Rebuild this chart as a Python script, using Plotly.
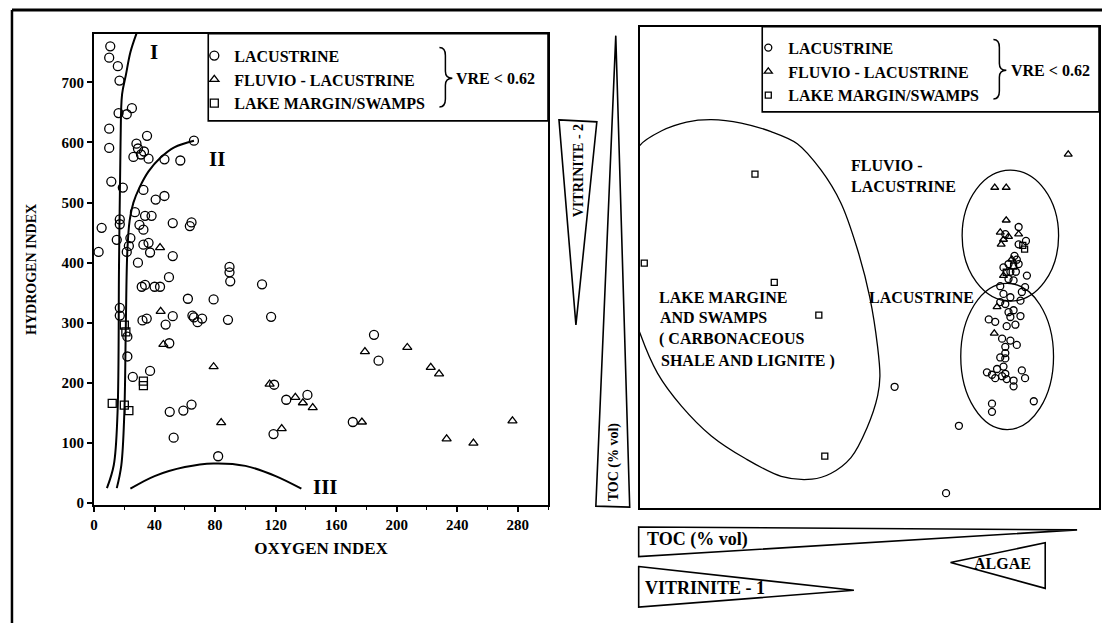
import plotly.graph_objects as go

W, H = 1102, 629

# ---------------- Left panel: Oxygen index vs Hydrogen index ----------------
lac_oi = [10.7, 10, 15.7, 16.8, 16.2, 21.6, 25, 10, 10, 35, 28, 29, 33, 31, 26, 66, 57, 46.5, 36,
          11.4, 19, 32.6, 46.5, 40.7, 27, 33.7, 38, 17, 17, 5, 30, 32.6, 52, 64.4, 63.3, 24, 15, 23,
          32.6, 36, 37, 52, 3, 21.6, 29, 89.5, 89.5, 90, 111, 49.5, 31.5, 33.7, 40, 43.6, 62, 79,
          52, 47.3, 32, 34.8, 65, 66, 68.4, 71.4, 88.5, 117, 49.7, 185, 188, 25.6, 37, 119, 127,
          141, 50, 59, 64.4, 52.6, 118.6, 82, 171, 17, 17, 22, 22]
lac_hi = [760, 741, 727, 703, 649, 647, 657, 623, 591, 611, 598, 590, 585, 580, 576, 603, 570, 572, 573,
          535, 525, 521, 511, 505, 484, 478, 478, 472, 464, 458, 463, 455, 466, 467, 461, 441, 438, 428,
          430, 433, 417, 411, 418, 418, 400, 393, 384, 369, 364, 376, 360, 363, 360, 360, 340, 339,
          311, 297, 304, 307, 312, 309, 301, 307, 305, 310, 266, 280, 237, 210, 220, 197, 172,
          180, 152, 154, 164, 109, 115, 78, 135, 325, 312, 277, 244]

flu_oi = [43.6, 44, 45.8, 79, 116, 133, 138, 144.5, 84, 124, 177, 179, 207, 222.5, 228, 276.5, 233, 250.7]
flu_hi = [425, 319, 264, 227, 198, 176, 167, 159, 134, 124, 135, 252, 259, 226, 215, 137, 107, 100]

lms_oi = [32.6, 32.6, 12, 20, 23, 20, 21]
lms_hi = [203, 195.5, 166, 163, 154, 296, 285]

# Kerogen type curves (I, II, III)
curve1_oi = [8.5, 13, 15.5, 16.5, 17.5, 18.5, 21, 24, 28]
curve1_hi = [25, 63, 150, 400, 600, 680, 712, 750, 781]
curve2_oi = [15, 18, 20, 21, 22, 23.5, 26, 30, 36, 44, 53, 66]
curve2_hi = [25, 63, 150, 300, 420, 470, 500, 525, 552, 575, 592, 603]
curve3_oi = [24, 40, 60, 79, 100, 120, 137]
curve3_hi = [24, 45, 60, 66, 62, 45, 24]

# ---------------- Right panel: relative TOC / maceral space (0-100) ----------------
r_lac_x = [55.5, 69.5, 66.7,
           82.5, 79.6, 82.5, 84.1, 81.6, 82.1, 80.3, 82.5, 79.2, 80.7, 81.9, 84.3, 80.3, 81.4,
           79.2, 80.7, 83.2, 78.5, 79.6, 82.9, 80.3, 81.4, 80.7, 82.9, 76.0, 77.4, 79.9, 81.8,
           78.9, 80.7, 82.1, 79.6, 79.6, 78.5, 79.6, 79.2, 77.8, 75.6, 76.7, 77.4, 78.9, 79.6,
           79.9, 81.4, 83.2, 83.9, 81.4, 76.7, 76.7, 85.8, 78.5, 83.9]
r_lac_y = [25.2, 17.1, 3.1,
           58.4, 56.9, 54.8, 55.5, 52.4, 51.6, 50.7, 50.7, 50.0, 49.1, 49.1, 48.3, 47.6, 47.3,
           44.5, 43.8, 44.9, 42.8, 42.4, 43.1, 40.7, 41.1, 39.7, 39.9, 39.2, 38.7, 37.8, 38.1,
           35.2, 34.8, 33.9, 33.5, 32.2, 31.3, 31.1, 29.4, 28.9, 28.2, 27.7, 27.0, 27.4, 27.9,
           26.8, 26.5, 28.6, 27.0, 25.3, 21.7, 20.0, 22.2, 46.1, 45.9]
r_flu_x = [93.3, 77.3, 79.8, 79.8, 78.5, 80.3, 82.5, 78.7, 79.2, 81.0, 79.2, 77.8, 77.2]
r_flu_y = [73.5, 66.6, 66.6, 59.8, 57.3, 56.4, 56.9, 54.8, 55.8, 51.7, 48.3, 41.8, 36.3]
r_lms_x = [25.1, 1.0, 29.3, 39.0, 40.3, 83.4, 83.8, 81.4, 79.8]
r_lms_y = [69.4, 50.9, 46.9, 40.1, 10.8, 54.6, 53.8, 50.3, 49.0]

# Lake margin / swamps field outline
marg_x = [-3.0, -2.4, -1.1, 0, 4.8, 10.2, 15.6, 22.1, 28.6, 34.3, 39.5, 43.8, 47.3, 50.1, 51.8,
          52.3, 51.8, 49.5, 46.0, 41.6, 37.5, 30.8, 23.0, 15.6, 9.1, 3.9, 0.2, -2.2, -3.0]
marg_y = [54.1, 64.4, 71.6, 75.3, 78.4, 80.2, 80.7, 80.0, 78.2, 75.7, 70.2, 63.4, 54.1, 43.8, 33.5,
          27.4, 23.3, 16.7, 10.5, 7.2, 6.0, 6.6, 10.3, 15.0, 21.2, 28.0, 36.0, 43.8, 54.1]
# Fluvio-lacustrine and lacustrine fields (x0, x1, y0, y1)
fluvio_field = (70.2, 91.2, 43.0, 70.2)
lacus_field = (69.9, 90.1, 16.3, 46.7)

names = ["LACUSTRINE", "FLUVIO - LACUSTRINE", "LAKE MARGIN/SWAMPS"]

SERIF = "Liberation Serif"
BLACK = "black"


def fx(x):
    return x / W


def fy(y):
    return 1 - y / H


def path(pts, close=True):
    s = "M " + " L ".join(f"{fx(x):.5f},{fy(y):.5f}" for x, y in pts)
    return s + (" Z" if close else "")


def brace(x0, xm, xt, ytop, ymid, ybot):
    return (f"M {fx(x0):.5f},{fy(ytop):.5f} Q {fx(xm):.5f},{fy(ytop):.5f} {fx(xm):.5f},{fy(ytop+8):.5f} "
            f"L {fx(xm):.5f},{fy(ymid-7):.5f} Q {fx(xm):.5f},{fy(ymid):.5f} {fx(xt):.5f},{fy(ymid):.5f} "
            f"Q {fx(xm):.5f},{fy(ymid):.5f} {fx(xm):.5f},{fy(ymid+7):.5f} "
            f"L {fx(xm):.5f},{fy(ybot-8):.5f} Q {fx(xm):.5f},{fy(ybot):.5f} {fx(x0):.5f},{fy(ybot):.5f}")


fig = go.Figure()

mk = dict(color=BLACK, line=dict(width=1.3, color=BLACK))
fig.add_trace(go.Scatter(x=lac_oi, y=lac_hi, mode="markers", name=names[0], legend="legend",
                         marker=dict(symbol="circle-open", size=9, **mk), xaxis="x", yaxis="y"))
fig.add_trace(go.Scatter(x=flu_oi, y=flu_hi, mode="markers", name=names[1], legend="legend",
                         marker=dict(symbol="triangle-up-open", size=8, **mk), xaxis="x", yaxis="y"))
fig.add_trace(go.Scatter(x=lms_oi, y=lms_hi, mode="markers", name=names[2], legend="legend",
                         marker=dict(symbol="square-open", size=8, **mk), xaxis="x", yaxis="y"))
for cx, cy in [(curve1_oi, curve1_hi), (curve2_oi, curve2_hi), (curve3_oi, curve3_hi)]:
    fig.add_trace(go.Scatter(x=cx, y=cy, mode="lines", line=dict(color=BLACK, width=2, shape="spline"),
                             showlegend=False, hoverinfo="skip", xaxis="x", yaxis="y"))

fig.add_trace(go.Scatter(x=marg_x, y=marg_y, mode="lines",
                         line=dict(color=BLACK, width=1.3, shape="spline", smoothing=0.9),
                         showlegend=False, hoverinfo="skip", xaxis="x2", yaxis="y2"))
fig.add_trace(go.Scatter(x=r_lac_x, y=r_lac_y, mode="markers", name=names[0], legend="legend2",
                         marker=dict(symbol="circle-open", size=7, **mk), xaxis="x2", yaxis="y2"))
fig.add_trace(go.Scatter(x=r_flu_x, y=r_flu_y, mode="markers", name=names[1], legend="legend2",
                         marker=dict(symbol="triangle-up-open", size=7, **mk), xaxis="x2", yaxis="y2"))
fig.add_trace(go.Scatter(x=r_lms_x, y=r_lms_y, mode="markers", name=names[2], legend="legend2",
                         marker=dict(symbol="square-open", size=6, **mk), xaxis="x2", yaxis="y2"))

shapes = []
# outer border
shapes.append(dict(type="line", xref="paper", yref="paper", x0=fx(8), x1=fx(1102), y0=fy(10), y1=fy(10),
                   line=dict(color=BLACK, width=3)))
shapes.append(dict(type="line", xref="paper", yref="paper", x0=fx(8), x1=fx(8), y0=fy(10), y1=fy(629),
                   line=dict(color=BLACK, width=2.5)))
# legend boxes
shapes.append(dict(type="rect", xref="paper", yref="paper", x0=fx(205), x1=fx(546), y0=fy(122), y1=fy(34),
                   line=dict(color=BLACK, width=1.6)))
shapes.append(dict(type="rect", xref="paper", yref="paper", x0=fx(761), x1=fx(1099), y0=fy(113), y1=fy(27),
                   line=dict(color=BLACK, width=1.6)))
# braces
shapes.append(dict(type="path", xref="paper", yref="paper", path=brace(437, 443, 450, 48, 79, 108),
                   line=dict(color=BLACK, width=1.5)))
shapes.append(dict(type="path", xref="paper", yref="paper", path=brace(993, 999, 1006, 40, 71, 100),
                   line=dict(color=BLACK, width=1.5)))
# wedges
wedges = [
    [(557, 121), (595, 123), (574, 328)],          # vitrinite - 2
    [(614, 36), (628, 512), (594, 511)],           # TOC vertical
    [(637, 532), (1077, 535), (637, 562)],         # TOC horizontal
    [(950, 568), (1045, 548), (1045, 594)],        # algae
    [(637, 572), (853, 596), (637, 613)],          # vitrinite - 1
]
for wpts in wedges:
    shapes.append(dict(type="path", xref="paper", yref="paper", path=path(wpts),
                       line=dict(color=BLACK, width=1.6)))
# facies fields
for (x0, x1, y0, y1) in [fluvio_field, lacus_field]:
    shapes.append(dict(type="circle", xref="x2", yref="y2", x0=x0, x1=x1, y0=y0, y1=y1,
                       line=dict(color=BLACK, width=1.3)))

bold = dict(family=SERIF, color=BLACK, weight="bold")


def ann(text, x, y, size=16, xanchor="left", angle=0):
    return dict(text=text, x=fx(x), y=fy(y), xref="paper", yref="paper", showarrow=False,
                xanchor=xanchor, yanchor="middle", textangle=angle, font=dict(size=size, **bold))


annotations = [
    ann("I", 151, 52, 21, "center"),
    ann("II", 214, 161, 21, "center"),
    ann("III", 323, 492, 21, "center"),
    ann("VRE &lt; 0.62", 452, 79, 16),
    ann("VRE &lt; 0.62", 1009, 71, 16),
    ann("VITRINITE - 2", 576, 172, 14, "center", -90),
    ann("TOC (% vol)", 612, 466, 14, "center", -90),
    ann("TOC (% vol)", 643, 545, 18),
    ann("VITRINITE - 1", 641, 594, 18),
    ann("ALGAE", 1002, 569, 16, "center"),
    ann("FLUVIO -", 848, 167, 16),
    ann("LACUSTRINE", 848, 188, 16),
    ann("LACUSTRINE", 866, 300, 16),
    ann("LAKE MARGINE", 655, 300, 16),
    ann("AND SWAMPS", 656, 321, 16),
    ann("( CARBONACEOUS", 655, 342, 16),
    ann("SHALE AND LIGNITE )", 657, 364, 16),
]

axis_common = dict(showgrid=False, zeroline=False, linecolor=BLACK, showline=True, mirror=True)

fig.update_layout(
    width=W, height=H, margin=dict(l=0, r=0, t=0, b=0),
    paper_bgcolor="white", plot_bgcolor="white",
    font=dict(family=SERIF, color=BLACK),
    xaxis=dict(domain=[fx(90.4), fx(546)], range=[0, 300], tick0=0, dtick=40, ticks="outside",
               ticklen=5, tickwidth=1.5, tickcolor=BLACK, linewidth=2,
               minor=dict(dtick=20, ticks="outside", ticklen=3, tickcolor=BLACK, tickwidth=1.2),
               tickfont=dict(size=15, **bold),
               title=dict(text="OXYGEN INDEX", font=dict(size=17, **bold), standoff=10),
               anchor="y", **axis_common),
    yaxis=dict(domain=[fy(510), fy(34)], range=[-3.3, 781], tick0=0, dtick=100, ticks="outside",
               ticklen=5, tickwidth=1.5, tickcolor=BLACK, linewidth=2,
               tickfont=dict(size=15, **bold),
               title=dict(text="HYDROGEN INDEX", font=dict(size=14, **bold), standoff=22),
               anchor="x", **axis_common),
    xaxis2=dict(domain=[fx(638), fx(1099)], range=[0, 100], showticklabels=False, ticks="",
                linewidth=1.6, anchor="y2", **axis_common),
    yaxis2=dict(domain=[fy(513), fy(27)], range=[0, 100], showticklabels=False, ticks="",
                linewidth=1.6, anchor="x2", **axis_common),
    legend=dict(x=fx(191), y=fy(39), xanchor="left", yanchor="top", bgcolor="rgba(0,0,0,0)",
                borderwidth=0, font=dict(size=16, **bold), tracegroupgap=0),
    legend2=dict(x=fx(747), y=fy(31), xanchor="left", yanchor="top", bgcolor="rgba(0,0,0,0)",
                 borderwidth=0, font=dict(size=16, **bold), tracegroupgap=0),
    shapes=shapes,
    annotations=annotations,
)

fig.write_html("out.html")
